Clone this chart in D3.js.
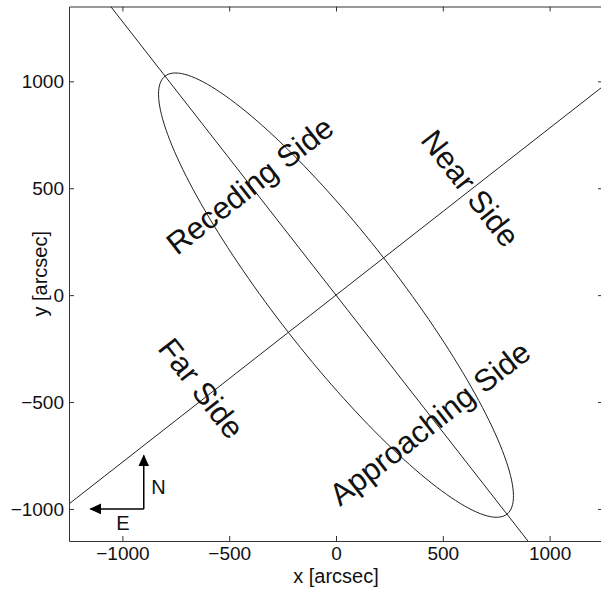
<!DOCTYPE html>
<html lang="en">
<head>
  <meta charset="UTF-8">
  <title>Disk geometry</title>
  <script src="https://d3js.org/d3.v7.min.js"></script>
  <style>
    body {
      margin: 0;
      background: #fff;
    }
    svg text {
      font-family: "Liberation Sans", Arial, sans-serif;
      fill: #111;
    }
    .tick text {
      font-size: 19px;
    }
    .axis path, .axis line {
      stroke: #333;
    }
  </style>
</head>
<body>
  <div id="chart"></div>

  <script>
    // axis limits and ticks [arcsec]
    const xDomain = [-1250, 1250];
    const yDomain = [-1150, 1350];
    const xTicks = [-1000, -500, 0, 500, 1000];
    const yTicks = [-1000, -500, 0, 500, 1000];

    // guide lines through the centre, angle from +x in degrees
    const lineAngles = [128, 38];

    // projected ring: semi axes [arcsec] and major axis angle
    const ringA = 1300;
    const ringB = 283;
    const ringAngle = 128;

    // side labels: text, x, y [arcsec], rotation [deg]
    const sideNames = ["Receding Side", "Near Side", "Far Side", "Approaching Side"];
    const sideX = [-403, 628, -632, 440];
    const sideY = [512, 499, -436, -600];
    const sideRot = [-38, 52, 52, -38];

    // compass: origin, arrow length, label positions
    const compassOrigin = [-900, -1000];
    const compassLen = 250;
    const compassNames = ["N", "E"];
    const compassLabelX = [-831, -998];
    const compassLabelY = [-896, -1067];

    const width = 601;
    const height = 592;
    const margin = {top: 6.5, right: -2, bottom: 51, left: 69};

    const svg = d3.select("#chart")
      .append("svg")
      .attr("width", width)
      .attr("height", height);

    const x = d3.scaleLinear()
      .domain(xDomain)
      .range([margin.left, width - margin.right]);

    const y = d3.scaleLinear()
      .domain(yDomain)
      .range([height - margin.bottom, margin.top]);

    const defs = svg.append("defs");
    defs.append("clipPath")
      .attr("id", "plot-clip")
      .append("rect")
        .attr("x", x(xDomain[0]))
        .attr("y", y(yDomain[1]))
        .attr("width", x(xDomain[1]) - x(xDomain[0]))
        .attr("height", y(yDomain[0]) - y(yDomain[1]));

    defs.append("marker")
      .attr("id", "arrow")
      .attr("viewBox", "0 0 12 11")
      .attr("refX", 11)
      .attr("refY", 5.5)
      .attr("markerWidth", 12)
      .attr("markerHeight", 11)
      .attr("markerUnits", "userSpaceOnUse")
      .attr("orient", "auto")
      .append("path")
        .attr("d", "M0,0L12,5.5L0,11Z")
        .attr("fill", "#000");

    const line = d3.line()
      .x(d => x(d[0]))
      .y(d => y(d[1]));

    const plot = svg.append("g").attr("clip-path", "url(#plot-clip)");

    // straight guide lines
    plot.selectAll(".guide")
      .data(lineAngles)
      .join("path")
        .attr("class", "guide")
        .attr("fill", "none")
        .attr("stroke", "#222")
        .attr("stroke-width", 1)
        .attr("d", a => {
          const r = a * Math.PI / 180;
          return line([[-4000 * Math.cos(r), -4000 * Math.sin(r)],
                       [4000 * Math.cos(r), 4000 * Math.sin(r)]]);
        });

    // the ellipse
    const rr = ringAngle * Math.PI / 180;
    const ringPts = d3.range(0, 361, 2).map(deg => {
      const t = deg * Math.PI / 180;
      const u = ringA * Math.cos(t), v = ringB * Math.sin(t);
      return [u * Math.cos(rr) - v * Math.sin(rr), u * Math.sin(rr) + v * Math.cos(rr)];
    });
    plot.append("path")
      .attr("fill", "none")
      .attr("stroke", "#222")
      .attr("stroke-width", 1)
      .attr("d", line(ringPts));

    // side labels
    plot.selectAll(".side")
      .data(sideNames)
      .join("text")
        .attr("class", "side")
        .attr("text-anchor", "middle")
        .attr("dominant-baseline", "central")
        .attr("font-size", 31)
        .attr("transform", (d, i) => `translate(${x(sideX[i])},${y(sideY[i])}) rotate(${sideRot[i]})`)
        .text(d => d);

    // compass arrows
    const [cx, cy] = compassOrigin;
    plot.selectAll(".compass")
      .data([[cx, cy + compassLen], [cx - compassLen, cy]])
      .join("line")
        .attr("class", "compass")
        .attr("x1", x(cx))
        .attr("y1", y(cy))
        .attr("x2", d => x(d[0]))
        .attr("y2", d => y(d[1]))
        .attr("stroke", "#000")
        .attr("stroke-width", 1.5)
        .attr("marker-end", "url(#arrow)");

    plot.selectAll(".compass-label")
      .data(compassNames)
      .join("text")
        .attr("class", "compass-label")
        .attr("text-anchor", "middle")
        .attr("dominant-baseline", "central")
        .attr("font-size", 20)
        .attr("x", (d, i) => x(compassLabelX[i]))
        .attr("y", (d, i) => y(compassLabelY[i]))
        .text(d => d);

    // axes, matlab style box with inward ticks
    const fmt = d3.format("");
    svg.append("g")
      .attr("class", "axis")
      .attr("transform", `translate(0,${y(yDomain[0])})`)
      .call(d3.axisBottom(x).tickValues(xTicks).tickFormat(fmt)
        .tickSizeInner(-5).tickSizeOuter(0).tickPadding(6));

    svg.append("g")
      .attr("class", "axis")
      .attr("transform", `translate(0,${y(yDomain[1])})`)
      .call(d3.axisTop(x).tickValues(xTicks).tickFormat("")
        .tickSizeInner(-5).tickSizeOuter(0));

    svg.append("g")
      .attr("class", "axis")
      .attr("transform", `translate(${x(xDomain[0])},0)`)
      .call(d3.axisLeft(y).tickValues(yTicks).tickFormat(fmt)
        .tickSizeInner(-5).tickSizeOuter(0).tickPadding(5));

    svg.append("g")
      .attr("class", "axis")
      .attr("transform", `translate(${x(xDomain[1])},0)`)
      .call(d3.axisRight(y).tickValues(yTicks).tickFormat("")
        .tickSizeInner(-5).tickSizeOuter(0));

    svg.selectAll(".tick text").attr("fill", "#111");

    // axis titles
    svg.append("text")
      .attr("text-anchor", "middle")
      .attr("font-size", 20)
      .attr("x", (x(xDomain[0]) + x(xDomain[1])) / 2)
      .attr("y", 583)
      .text("x [arcsec]");

    svg.append("text")
      .attr("text-anchor", "middle")
      .attr("font-size", 20)
      .attr("transform", `translate(47,${(y(yDomain[0]) + y(yDomain[1])) / 2}) rotate(-90)`)
      .text("y [arcsec]");
  </script>
</body>
</html>
